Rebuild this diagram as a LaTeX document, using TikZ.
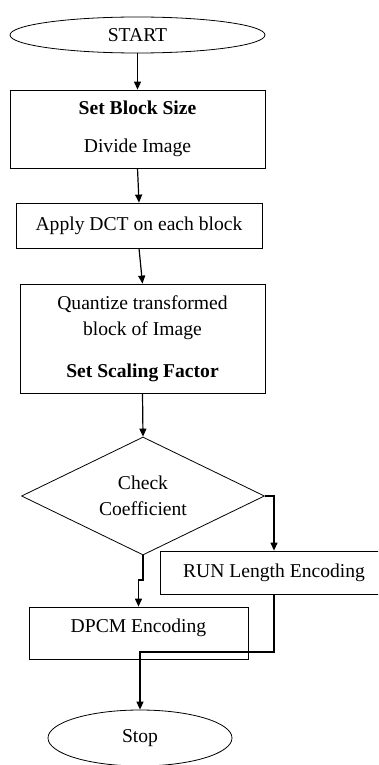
\documentclass[tikz,border=0pt]{standalone}
\usepackage{fontspec}
\setmainfont{Liberation Serif}
\usetikzlibrary{shapes.geometric,arrows.meta}

\begin{document}
\begin{tikzpicture}[
  x=1pt, y=-1pt,
  every node/.style={font=\fontsize{19.6}{26}\selectfont},
  term/.style={ellipse, draw, line width=0.8pt, inner sep=0pt},
  proc/.style={rectangle, draw, line width=0.8pt, inner sep=0pt, align=center},
  dec/.style={diamond, draw, line width=0.8pt, inner sep=0pt, aspect=2, align=center},
  flow/.style={line width=1.2pt, -{Triangle[length=8pt,width=7pt]}},
]
  \useasboundingbox (0,0) rectangle (378,765);
  \clip (0,0) rectangle (378,765);

  \node[term, minimum width=255pt, minimum height=36pt] (S) at (137.5,35) {START};
  \node[proc, minimum width=255pt, minimum height=78pt] (B1) at (137.5,129)
    {\textbf{Set Block Size}\\[12pt]Divide Image};
  \node[proc, minimum width=246pt, minimum height=45pt] (B2) at (139,225.5)
    {Apply DCT on each block};
  \node[proc, minimum width=245pt, minimum height=109pt] (B3) at (142.5,338.5)
    {Quantize transformed\\block of Image\\[16pt]\textbf{Set Scaling Factor}};
  \node[dec, minimum width=243pt, minimum height=118pt] (D) at (143,496) {Check\\Coefficient};
  \node[proc, minimum width=228pt, minimum height=43pt] (R) at (274,572.5)
    {RUN Length Encoding};
  \node[proc, minimum width=219pt, minimum height=52pt, text height=13pt, text depth=14pt] (P) at (138.5,633)
    {DPCM Encoding};
  \node[term, minimum width=184pt, minimum height=56pt] (E) at (140,738) {Stop};

  \coordinate (k) at (143,580);
  \coordinate (j) at (140,652);

  \draw[flow] (S) -- (B1);
  \draw[flow] (B1.south) -- (B2.north);
  \draw[flow] (B2.south) -- (B3.north);
  \draw[flow] (B3.south) -- (D.north);
  \draw[flow] (D.east) -| (R.north);
  \draw[flow] (D.south) -- (k) -| (P.north);
  \draw[flow] (R.south) |- (j) -- (E.north);
\end{tikzpicture}
\end{document}
